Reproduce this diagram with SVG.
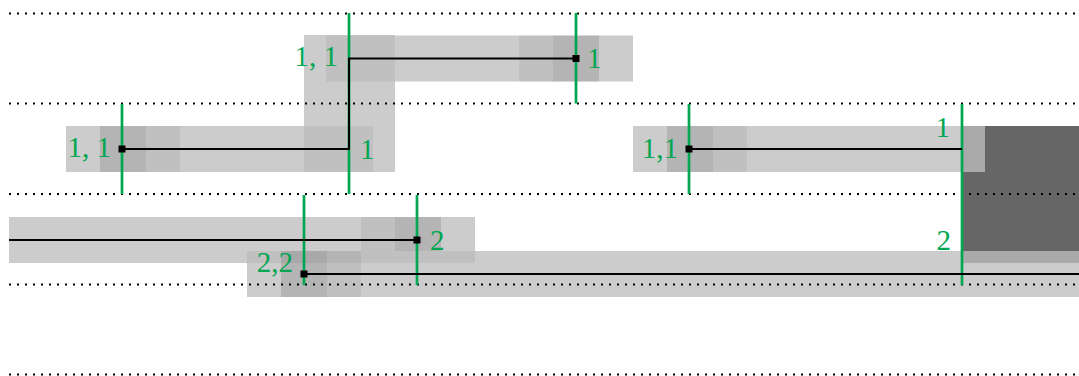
<svg xmlns="http://www.w3.org/2000/svg" width="1079" height="376" viewBox="0 0 1079 376">
<style>
.b{fill:#cccccc}
.o{fill:#000;fill-opacity:0.06}
.x{fill:#aaaaaa}
.dk{fill:#666666}
.dot{stroke:#000;stroke-width:2;stroke-dasharray:2 6;fill:none}
.g{stroke:#00a651;stroke-width:2.7;fill:none}
.c{stroke:#000;stroke-width:2;fill:none}
.n{fill:#000}
text{font-family:"Liberation Serif","Times New Roman",serif;font-size:29px;fill:#00a651}
.e{text-anchor:end}
</style>
<rect width="1079" height="376" fill="#fff"/>
<g id="bars">
  <g id="bar-top">
    <rect class="b" x="304" y="35" width="91" height="137"/>
    <rect class="b" x="326" y="35.5" width="307" height="46"/>
    <rect class="o" x="326" y="35.5" width="69" height="46"/>
    <rect class="o" x="519" y="35.5" width="80" height="46"/>
    <rect class="o" x="553" y="35.5" width="46" height="46"/>
  </g>
  <g id="bar-mid-left">
    <rect class="b" x="66" y="126" width="307" height="46"/>
    <rect class="o" x="304" y="126" width="69" height="46"/>
    <rect class="o" x="100" y="126" width="80" height="46"/>
    <rect class="o" x="100" y="126" width="46" height="46"/>
  </g>
  <g id="bar-mid-right">
    <rect class="b" x="633" y="126" width="352" height="46"/>
    <rect class="o" x="667" y="126" width="80" height="46"/>
    <rect class="o" x="667" y="126" width="46" height="46"/>
  </g>
  <g id="bar-low">
    <rect class="b" x="9" y="217" width="466" height="46"/>
    <rect class="o" x="361" y="217" width="80" height="46"/>
    <rect class="o" x="395" y="217" width="46" height="46"/>
  </g>
  <g id="bar-bottom">
    <rect class="b" x="247" y="251" width="832" height="46"/>
    <rect class="o" x="247" y="251" width="228" height="12"/>
    <rect class="o" x="281" y="251" width="80" height="46"/>
    <rect class="o" x="281" y="251" width="46" height="46"/>
  </g>
  <g id="block">
    <path class="dk" d="M985 126H1079V251H963V172H985Z"/>
    <rect class="x" x="963" y="126" width="22" height="46"/>
    <rect class="x" x="963" y="251" width="116" height="12"/>
  </g>
</g>
<g id="dotted">
  <line class="dot" x1="9" y1="13.5" x2="1079" y2="13.5"/>
  <line class="dot" x1="9" y1="103.5" x2="1079" y2="103.5"/>
  <line class="dot" x1="9" y1="194" x2="1079" y2="194"/>
  <line class="dot" x1="9" y1="284.5" x2="1079" y2="284.5"/>
  <line class="dot" x1="9" y1="374.5" x2="1079" y2="374.5"/>
</g>
<g id="ticks">
  <line class="g" x1="349" y1="13" x2="349" y2="194"/>
  <line class="g" x1="576" y1="13" x2="576" y2="103.5"/>
  <line class="g" x1="122" y1="104" x2="122" y2="194"/>
  <line class="g" x1="689" y1="104" x2="689" y2="194"/>
  <line class="g" x1="962" y1="104" x2="962" y2="285"/>
  <line class="g" x1="304" y1="195" x2="304" y2="285"/>
  <line class="g" x1="417" y1="195" x2="417" y2="285"/>
</g>
<g id="connectors">
  <polyline class="c" points="122,149 349,149 349,58.5 576,58.5"/>
  <line class="c" x1="689" y1="149" x2="962" y2="149"/>
  <line class="c" x1="9" y1="240" x2="417" y2="240"/>
  <line class="c" x1="304" y1="274" x2="1079" y2="274"/>
</g>
<g id="nodes">
  <rect class="n" x="572.5" y="55" width="7" height="7"/>
  <rect class="n" x="118.5" y="145.5" width="7" height="7"/>
  <rect class="n" x="685.5" y="145.5" width="7" height="7"/>
  <rect class="n" x="413.5" y="236.5" width="7" height="7"/>
  <rect class="n" x="300.5" y="270.5" width="7" height="7"/>
</g>
<g id="labels">
  <text class="e" x="338" y="66">1, 1</text>
  <text x="587" y="68">1</text>
  <text class="e" x="111" y="157">1, 1</text>
  <text x="360" y="159">1</text>
  <text class="e" x="678" y="157.5">1,1</text>
  <text class="e" x="950" y="137">1</text>
  <text class="e" x="951" y="249.5">2</text>
  <text x="430" y="250">2</text>
  <text class="e" x="293" y="272">2,2</text>
</g>
</svg>
